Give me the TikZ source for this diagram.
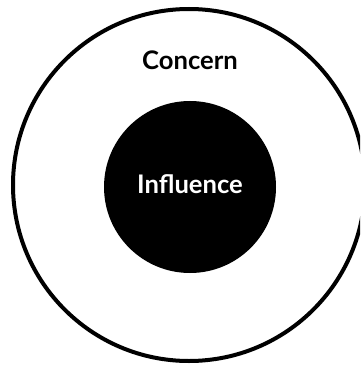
\documentclass[tikz,border=0pt]{standalone}
\usepackage{fontspec}
\setmainfont{Lato}
\begin{document}
\begin{tikzpicture}[x=1pt,y=-1pt,
  outer/.style={circle,draw=black,line width=4pt,fill=white,minimum size=352pt,inner sep=0pt},
  inner/.style={circle,fill=black,minimum size=172pt,inner sep=0pt},
  lbl/.style={font=\fontsize{25.6}{30}\selectfont\bfseries,inner sep=0pt,anchor=base}]
\useasboundingbox (0,0) rectangle (360,366);
\clip (0,0) rectangle (360,366);
\node[outer] (concernc) at (189,185) {};
\node[inner] (influencec) at (190,187) {};
\node[lbl,text=black] (concern) at (190,70) {Concern};
\node[lbl,text=white] (influence) at (190,193) {Influence};
\end{tikzpicture}
\end{document}
